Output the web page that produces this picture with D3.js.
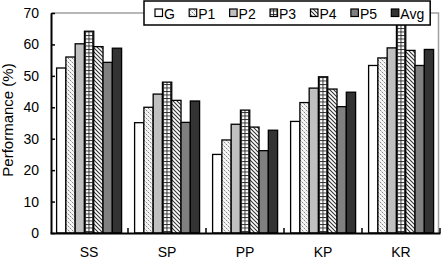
<!DOCTYPE html>
<html><head><meta charset="utf-8">
<script src="https://cdn.jsdelivr.net/npm/d3@7"></script>
<style>
html,body{margin:0;padding:0;background:#fff;}
svg{display:block;font-family:"Liberation Sans",Arial,sans-serif;}
</style></head>
<body><svg id="c" width="444" height="268"></svg>
<script>
const categories = ["SS","SP","PP","KP","KR"];
const seriesNames = ["G","P1","P2","P3","P4","P5","Avg"];
const G   = [52.5, 35.1, 25.0, 35.5, 53.3];
const P1  = [56.0, 40.0, 29.6, 41.5, 55.7];
const P2  = [60.2, 44.2, 34.6, 46.1, 58.9];
const P3  = [64.2, 48.0, 39.1, 49.7, 66.5];
const P4  = [59.3, 42.2, 33.7, 45.8, 58.1];
const P5  = [54.3, 35.2, 26.2, 40.2, 53.3];
const Avg = [58.8, 42.0, 32.7, 44.8, 58.4];
const seriesValues = [G, P1, P2, P3, P4, P5, Avg];
const yTicks = [0,10,20,30,40,50,60,70];
const yLabel = "Performance (%)";

const svg = d3.select("#c");
const defs = svg.append("defs");

// patterns
const p1 = defs.append("pattern").attr("id","pat1").attr("patternUnits","userSpaceOnUse").attr("width",4).attr("height",4);
p1.append("rect").attr("width",4).attr("height",4).attr("fill","#f4f4f4");
p1.append("rect").attr("x",0).attr("y",0).attr("width",1).attr("height",1).attr("fill","#888");
p1.append("rect").attr("x",2).attr("y",2).attr("width",1).attr("height",1).attr("fill","#888");
p1.append("rect").attr("x",1).attr("y",1).attr("width",1).attr("height",1).attr("fill","#c8c8c8");
p1.append("rect").attr("x",3).attr("y",3).attr("width",1).attr("height",1).attr("fill","#c8c8c8");

const p3 = defs.append("pattern").attr("id","pat3").attr("patternUnits","userSpaceOnUse").attr("width",3.5).attr("height",3.5);
p3.append("rect").attr("width",3.5).attr("height",3.5).attr("fill","#fff");
p3.append("line").attr("x1",0).attr("y1",0.5).attr("x2",3.5).attr("y2",0.5).attr("stroke","#222").attr("stroke-width",0.9);
p3.append("line").attr("x1",0.5).attr("y1",0).attr("x2",0.5).attr("y2",3.5).attr("stroke","#222").attr("stroke-width",0.9);

const p4 = defs.append("pattern").attr("id","pat4").attr("patternUnits","userSpaceOnUse").attr("width",4).attr("height",4);
p4.append("rect").attr("width",4).attr("height",4).attr("fill","#fff");
p4.append("path").attr("d","M-1,-1 L5,5 M-1,3 L1,5 M3,-1 L5,1").attr("stroke","#333").attr("stroke-width",1.1);

const fills = ["#ffffff","url(#pat1)","#c0c0c0","url(#pat3)","url(#pat4)","#808080","#333333"];

const x0 = d3.scaleBand().domain(categories).range([50, 440]);
const x1 = d3.scaleBand().domain(seriesNames).range([6.6, x0.bandwidth()-6.4]);
const y = d3.scaleLinear().domain([0,70]).range([233,13]);

// gray frame
svg.append("path").attr("d",`M${x0.range()[0]+2},${y(70)} H${x0.range()[1]-1.5} V${y(0)}`)
  .attr("fill","none").attr("stroke","#a0a0a0").attr("stroke-width",1.5);

// bars
const groups = svg.append("g").selectAll("g").data(categories).join("g")
  .attr("transform", d => `translate(${x0(d)},0)`);
groups.selectAll("rect").data((c,ci) => seriesNames.map((s,si) => ({s, si, v: seriesValues[si][ci]})))
  .join("rect")
  .attr("x", d => x1(d.s))
  .attr("width", x1.bandwidth())
  .attr("y", d => y(d.v))
  .attr("height", d => y(0) - y(d.v))
  .attr("fill", d => fills[d.si])
  .attr("stroke","#000").attr("stroke-width",1.3);

// y axis
const yAxis = d3.axisLeft(y).tickValues(yTicks).tickSize(-4).tickPadding(12).tickSizeOuter(0);
const ya = svg.append("g").attr("transform","translate(51,0)").call(yAxis);
ya.select(".domain").attr("stroke","#000").attr("stroke-width",2);
ya.selectAll(".tick line").attr("stroke","#000").attr("stroke-width",1.5);
ya.selectAll(".tick text").attr("font-size",14).attr("font-family","Liberation Sans, Arial, sans-serif").attr("fill","#000");

// x axis
const xAxis = d3.axisBottom(x0).tickSize(0).tickPadding(14);
const xa = svg.append("g").attr("transform",`translate(0,${y(0)})`).call(xAxis);
xa.select(".domain").attr("stroke","#000").attr("stroke-width",2);
xa.selectAll(".tick text").attr("font-size",14).attr("font-family","Liberation Sans, Arial, sans-serif").attr("fill","#000");
// inner boundary ticks
const bounds = categories.map(c => x0(c)).slice(1).concat([x0.range()[1]]);
svg.append("g").selectAll("line").data(bounds).join("line")
  .attr("x1", d => d).attr("x2", d => d).attr("y1", y(0)).attr("y2", y(0)-5)
  .attr("stroke","#000").attr("stroke-width",1.5);

// y label
svg.append("text").attr("transform","translate(13,120) rotate(-90)")
  .attr("text-anchor","middle").attr("font-size",15).attr("fill","#000").text(yLabel);

// legend
const leg = svg.append("g");
const legBox = leg.append("rect").attr("x",144).attr("y",1).attr("height",24)
  .attr("fill","#fff").attr("stroke","#000").attr("stroke-width",1.5);
let lx = 155;
const gap = 14.3;
seriesNames.forEach((s,i) => {
  leg.append("rect").attr("x",lx).attr("y",9).attr("width",7.5).attr("height",7.5)
    .attr("fill",fills[i]).attr("stroke","#000").attr("stroke-width",1.2);
  const t = leg.append("text").attr("x",lx+9).attr("y",18.5).attr("font-size",14).attr("fill","#000").text(s);
  lx += 9 + t.node().getComputedTextLength() + gap;
});
legBox.attr("width", lx - gap + 6 - 144);
</script></body></html>
